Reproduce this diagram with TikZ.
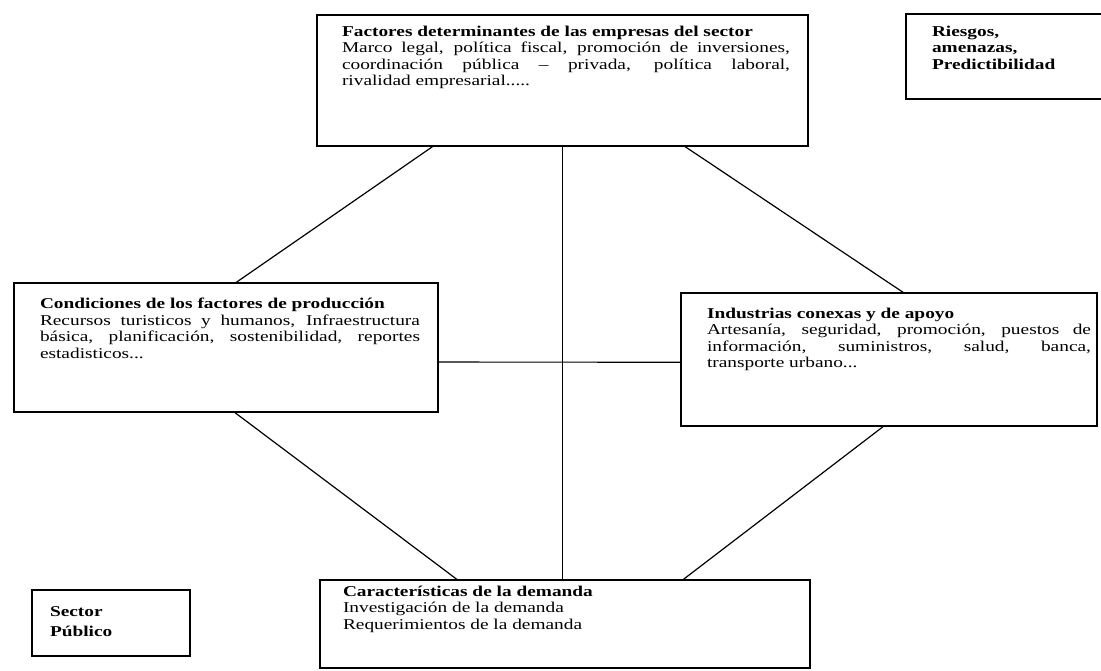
\documentclass[tikz,border=0pt]{standalone}
\usepackage{fontspec}
\setmainfont{Liberation Serif}[FakeStretch=1.29]
\usepackage{tikz}
\usetikzlibrary{positioning, calc}

\begin{document}
\begin{tikzpicture}[x=1pt, y=-1pt, line width=1.2pt,
    caja/.style={draw, rectangle, inner sep=0pt},
    texto/.style={anchor=north west, inner sep=0pt, align=justify, font=\fontsize{15}{16.5}\selectfont}]
    \useasboundingbox (0,0) rectangle (1101,671);

    % cajas
    \node[caja, minimum width=491pt, minimum height=131pt] (fact) at (562.5,80.5) {};
    \node[caja, minimum width=198pt, minimum height=85pt] (riesgo) at (1005,56.5) {};
    \node[caja, minimum width=424pt, minimum height=129pt] (cond) at (226,347.5) {};
    \node[caja, minimum width=416pt, minimum height=133pt] (ind) at (889,359.5) {};
    \node[caja, minimum width=490pt, minimum height=88pt] (dem) at (565,624) {};
    \node[caja, minimum width=158pt, minimum height=66pt] (sector) at (111,623) {};

    % textos
    \node[texto, text width=448pt] (factT) at ($(fact.north west)+(25,11)$)
        {\textbf{Factores determinantes de las empresas del sector}\\
         Marco legal, política fiscal, promoción de inversiones,\linebreak
         coordinación pública – privada, política laboral,\linebreak
         rivalidad empresarial.....};
    \node[texto, align=left] (riesgoT) at ($(riesgo.north west)+(26,12)$)
        {\textbf{Riesgos,}\\ \textbf{amenazas,}\\ \textbf{Predictibilidad}};
    \node[texto, text width=380pt] (condT) at ($(cond.north west)+(26,15)$)
        {\textbf{Condiciones de los factores de producción}\\
         Recursos turisticos y humanos, Infraestructura\linebreak
         básica, planificación, sostenibilidad, reportes\linebreak
         estadisticos...};
    \node[texto, text width=384pt] (indT) at ($(ind.north west)+(26,15)$)
        {\textbf{Industrias conexas y de apoyo}\\
         Artesanía, seguridad, promoción, puestos de\linebreak
         información, suministros, salud, banca,\linebreak
         transporte urbano...};
    \node[texto, align=left] (demT) at ($(dem.north west)+(23,6)$)
        {\textbf{Características de la demanda}\\
         Investigación de la demanda\\
         Requerimientos de la demanda};
    \node[texto, align=left, font=\fontsize{15}{20}\selectfont] (sectorT) at ($(sector.north west)+(18,17)$)
        {\textbf{Sector}\\ \textbf{Público}};

    % conexiones
    \draw ($(fact.south west)!.236!(fact.south east)$) -- ($(cond.north west)!.524!(cond.north east)$);
    \draw ($(fact.south west)!.749!(fact.south east)$) -- ($(ind.north west)!.534!(ind.north east)$);
    \draw (fact.south) -- (fact.south |- dem.north);
    \draw ($(cond.north east)!.612!(cond.south east)$) -- ($(ind.north west)!.52!(ind.south west)$);
    \draw ($(cond.south west)!.521!(cond.south east)$) -- ($(dem.north west)!.28!(dem.north east)$);
    \draw ($(ind.south west)!.486!(ind.south east)$) -- ($(dem.north west)!.741!(dem.north east)$);
\end{tikzpicture}
\end{document}
